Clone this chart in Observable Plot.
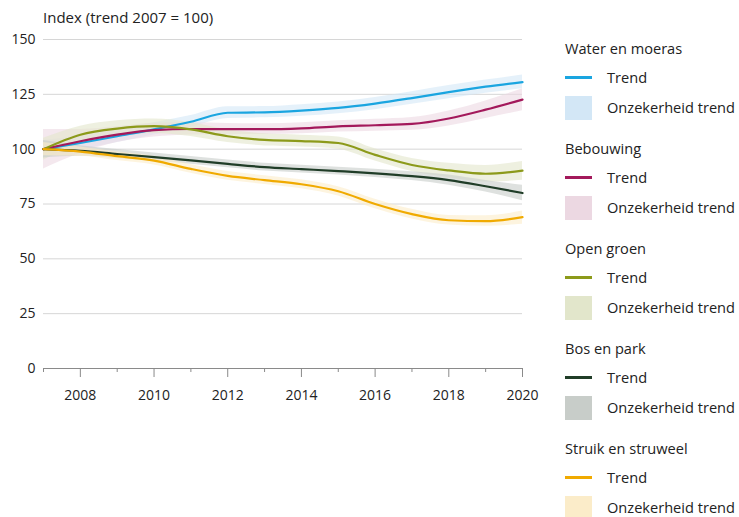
<!DOCTYPE html>
<html>
<head>
<meta charset="utf-8">
<script src="https://cdn.jsdelivr.net/npm/d3@7"></script>
<script src="https://cdn.jsdelivr.net/npm/@observablehq/plot@0.6"></script>
<style>
  html, body { margin: 0; padding: 0; background: #fff; }
  #wrap { position: relative; width: 739px; height: 517px; font-family: "Open Sans", sans-serif; color: #222; }
  #title { position: absolute; left: 43px; top: 8px; font-size: 15px; line-height: 1.2; }
  #chart { position: absolute; left: 0; top: 0; }
  #legend { position: absolute; left: 0; top: 0; width: 739px; height: 517px; pointer-events: none; }
  .lg { position: absolute; font-size: 14.6px; white-space: nowrap; line-height: 1; }
</style>
</head>
<body>
<div id="wrap">
  <div id="chart"></div>
  <div id="title">Index (trend 2007 = 100)</div>
  <div id="legend"></div>
</div>
<script>
const years = [2007, 2008, 2009, 2010, 2011, 2012, 2013, 2014, 2015, 2016, 2017, 2018, 2019, 2020];

const seriesNames = ["Water en moeras", "Bebouwing", "Open groen", "Bos en park", "Struik en struweel"];

const waterTrend = [100, 102.8, 105.9, 109.0, 112.5, 116.6, 116.8, 117.6, 118.8, 120.8, 123.3, 126.0, 128.5, 130.6];
const waterLow   = [ 96,  99.5, 103.0, 106.5, 110.0, 114.0, 114.3, 115.0, 116.2, 118.0, 120.5, 123.0, 125.5, 127.5];
const waterHigh  = [104, 106.0, 109.0, 112.0, 115.3, 119.3, 119.4, 120.3, 121.5, 123.6, 126.2, 129.0, 131.5, 133.8];

const bebouwingTrend = [100, 103.6, 106.6, 108.7, 109.2, 109.1, 109.1, 109.5, 110.4, 110.9, 111.5, 114.0, 118.0, 122.6];
const bebouwingLow   = [ 91,  98.0, 103.0, 105.5, 106.5, 106.6, 106.7, 107.0, 107.8, 108.2, 108.6, 110.6, 114.0, 117.5];
const bebouwingHigh  = [109, 109.0, 110.2, 111.8, 112.0, 111.7, 111.6, 112.0, 113.0, 113.6, 114.4, 117.4, 122.0, 127.5];

const openTrend = [100, 106.6, 109.4, 110.5, 109.0, 105.9, 104.2, 103.7, 102.8, 97.4, 92.8, 90.3, 88.8, 90.2];
const openLow   = [ 95, 102.5, 105.8, 107.2, 105.8, 103.0, 101.5, 101.0, 100.0, 94.6, 89.8, 87.0, 85.0, 85.8];
const openHigh  = [105, 110.5, 113.0, 113.8, 112.2, 108.8, 107.0, 106.4, 105.6, 100.2, 95.8, 93.6, 92.6, 94.4];

const bosTrend = [100, 99.2, 97.8, 96.4, 94.9, 93.3, 91.8, 90.9, 90.0, 89.0, 87.7, 85.9, 83.1, 80.0];
const bosLow   = [ 96, 96.8, 95.8, 94.6, 93.1, 91.5, 90.0, 89.1, 88.2, 87.1, 85.7, 83.6, 80.5, 76.5];
const bosHigh  = [104, 101.6, 99.8, 98.2, 96.7, 95.1, 93.6, 92.7, 91.8, 90.9, 89.7, 88.2, 85.7, 83.5];

const struikTrend = [100, 98.9, 96.8, 94.8, 91.0, 87.8, 85.9, 84.0, 80.8, 75.0, 70.4, 67.6, 67.2, 69.0];
const struikLow   = [ 97, 96.8, 94.8, 92.8, 89.0, 85.8, 83.9, 82.0, 78.7, 72.8, 68.2, 65.4, 64.8, 65.8];
const struikHigh  = [103, 101.0, 98.8, 96.8, 93.0, 89.8, 87.9, 86.0, 82.9, 77.2, 72.6, 69.8, 69.6, 71.8];

const lineColors = ["#1aa5e0", "#a3195b", "#8c9a1a", "#203d28", "#f0aa00"];
const bandColors = ["#d3e7f6", "#ecd8e2", "#e2e6cb", "#c8cdc9", "#fbecc9"];

const yTicks = [0, 25, 50, 75, 100, 125, 150];
const xMajorTicks = [2008, 2010, 2012, 2014, 2016, 2018, 2020];
const xMinorTicks = [2007, 2009, 2011, 2013, 2015, 2017, 2019];

const legendTrendLabel = "Trend";
const legendBandLabel = "Onzekerheid trend";

const trends = [waterTrend, bebouwingTrend, openTrend, bosTrend, struikTrend];
const lows = [waterLow, bebouwingLow, openLow, bosLow, struikLow];
const highs = [waterHigh, bebouwingHigh, openHigh, bosHigh, struikHigh];

const tables = seriesNames.map((name, s) =>
  years.map((year, i) => ({ name, year, trend: trends[s][i], low: lows[s][i], high: highs[s][i] }))
);

const marks = [
  Plot.gridY(yTicks.filter(d => d > 0), { stroke: "#d6d6d6", strokeOpacity: 1, strokeWidth: 1 }),
  Plot.ruleY([0], { stroke: "#8a8a8a", strokeWidth: 1 })
];
tables.forEach((t, s) => {
  marks.push(Plot.areaY(t, { x: "year", y1: "low", y2: "high", fill: bandColors[s], fillOpacity: 0.6, curve: "monotone-x" }));
});
tables.forEach((t, s) => {
  marks.push(Plot.lineY(t, { x: "year", y: "trend", stroke: lineColors[s], strokeWidth: 2.2, curve: "monotone-x" }));
});
marks.push(
  Plot.axisY({ ticks: yTicks, tickSize: 0, tickPadding: 8, label: null, fontSize: 14 }),
  Plot.axisX({ ticks: xMajorTicks, tickSize: 9, tickPadding: 13, tickFormat: d => String(d), label: null, fontSize: 14, stroke: "#8a8a8a" }),
  Plot.axisX({ ticks: xMinorTicks, tickSize: 4, tickFormat: () => "", label: null, stroke: "#8a8a8a" })
);

const chart = Plot.plot({
  width: 545,
  height: 410,
  marginLeft: 43,
  marginRight: 23,
  marginTop: 39,
  marginBottom: 42,
  x: { domain: [2007, 2020] },
  y: { domain: [0, 150] },
  style: { fontFamily: "Open Sans, sans-serif", fontSize: "14px", color: "#222", background: "transparent" },
  marks
});
document.getElementById("chart").appendChild(chart);

// Legend built from the series arrays
const legend = document.getElementById("legend");
seriesNames.forEach((name, s) => {
  const top = 41 + s * 100;
  const h = document.createElement("div");
  h.className = "lg"; h.style.left = "565px"; h.style.top = top + "px"; h.textContent = name;
  legend.appendChild(h);

  const ln = document.createElement("div");
  ln.style.cssText = `position:absolute;left:565px;top:${top + 35}px;width:27px;height:2.5px;background:${lineColors[s]};`;
  legend.appendChild(ln);
  const t1 = document.createElement("div");
  t1.className = "lg"; t1.style.left = "607px"; t1.style.top = (top + 29) + "px"; t1.textContent = legendTrendLabel;
  legend.appendChild(t1);

  const sw = document.createElement("div");
  sw.style.cssText = `position:absolute;left:565px;top:${top + 55}px;width:27px;height:24px;background:${bandColors[s]};`;
  legend.appendChild(sw);
  const t2 = document.createElement("div");
  t2.className = "lg"; t2.style.left = "607px"; t2.style.top = (top + 59) + "px"; t2.textContent = legendBandLabel;
  legend.appendChild(t2);
});
</script>
</body>
</html>
